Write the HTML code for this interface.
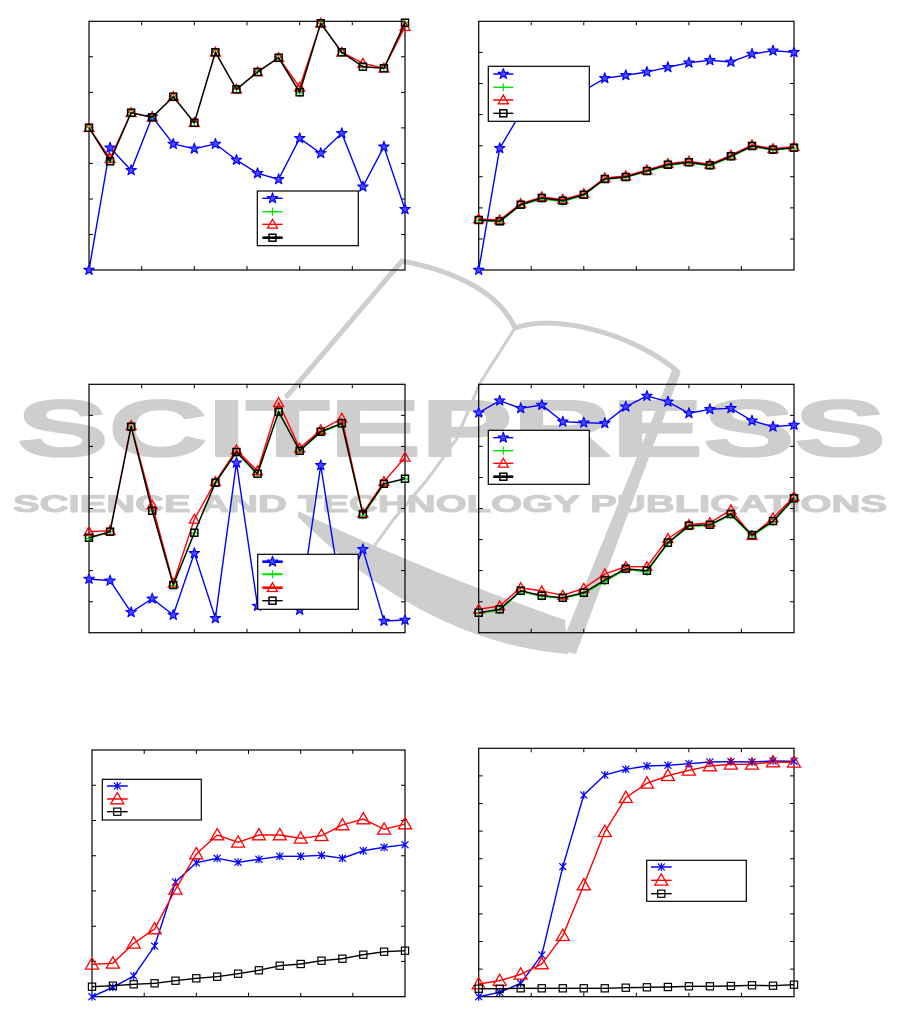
<!DOCTYPE html>
<html><head><meta charset="utf-8"><style>
html,body{margin:0;padding:0;background:#fff;}
svg{display:block;}
.ax{fill:none;stroke:#000;stroke-width:1.2;}
.tk{fill:none;stroke:#000;stroke-width:1;}
.b{fill:none;stroke:#0000ff;stroke-width:1.4;stroke-linejoin:round;}
.g{fill:none;stroke:#00e000;stroke-width:1.3;stroke-linejoin:round;}
.r{fill:none;stroke:#ff0000;stroke-width:1.4;stroke-linejoin:round;}
.k{fill:none;stroke:#000;stroke-width:1.4;stroke-linejoin:round;}
.lg{fill:#fff;stroke:#000;stroke-width:1.2;}
</style></head><body>
<svg width="901" height="1022" viewBox="0 0 901 1022" xmlns="http://www.w3.org/2000/svg">
<defs>
<marker id="st" markerUnits="userSpaceOnUse" markerWidth="14" markerHeight="14" refX="0" refY="0" orient="0" style="overflow:visible"><polygon points="0,-5.5 1.293,-1.78 5.231,-1.7 2.092,0.68 3.233,4.45 0,2.2 -3.233,4.45 -2.092,0.68 -5.231,-1.7 -1.293,-1.78" fill="#4a4aff" stroke="#0000ff" stroke-width="1.1" stroke-linejoin="round"/></marker>
<marker id="pl" markerUnits="userSpaceOnUse" markerWidth="12" markerHeight="12" refX="0" refY="0" orient="0" style="overflow:visible"><path d="M-4,0H4M0,-4V4" stroke="#00e000" stroke-width="1.2" fill="none"/></marker>
<marker id="tr" markerUnits="userSpaceOnUse" markerWidth="14" markerHeight="14" refX="0" refY="0" orient="0" style="overflow:visible"><polygon points="0,-5 5,3.8 -5,3.8" fill="none" stroke="#ff0000" stroke-width="1.3"/></marker>
<marker id="sq" markerUnits="userSpaceOnUse" markerWidth="12" markerHeight="12" refX="0" refY="0" orient="0" style="overflow:visible"><rect x="-3.5" y="-3.5" width="7" height="7" fill="none" stroke="#000" stroke-width="1.5"/></marker>
<marker id="as" markerUnits="userSpaceOnUse" markerWidth="12" markerHeight="12" refX="0" refY="0" orient="0" style="overflow:visible"><path d="M-3.5,-3.5L3.5,3.5M-3.5,3.5L3.5,-3.5M0,-4V4" stroke="#0000ff" stroke-width="1.2" fill="none"/></marker>
<marker id="tb" markerUnits="userSpaceOnUse" markerWidth="16" markerHeight="16" refX="0" refY="0" orient="0" style="overflow:visible"><polygon points="0,-6.5 6.5,4.8 -6.5,4.8" fill="none" stroke="#ff0000" stroke-width="1.3"/></marker>
<marker id="sb" markerUnits="userSpaceOnUse" markerWidth="12" markerHeight="12" refX="0" refY="0" orient="0" style="overflow:visible"><rect x="-3.6" y="-3.6" width="7.2" height="7.2" fill="none" stroke="#000" stroke-width="1.2"/></marker>
</defs>

<!-- watermark -->
<g fill="#cecece" stroke="#cecece" stroke-width="2" stroke-linejoin="round">
<text x="17" y="456" font-family="Liberation Sans, sans-serif" font-weight="bold" font-size="80" textLength="869" lengthAdjust="spacingAndGlyphs">SCITEPRESS</text>
<text x="13" y="512" font-family="Liberation Sans, sans-serif" font-weight="bold" font-size="24" stroke-width="1" textLength="874" lengthAdjust="spacingAndGlyphs">SCIENCE AND TECHNOLOGY PUBLICATIONS</text>
</g>
<g fill="#cecece" stroke="none">
<polygon points="672,370 680,374 576,654 559,650"/>
<path d="M298,511 C360,540 440,576 565,620 L568,654 C470,646 380,598 298,517 Z"/>
</g>
<g fill="none" stroke="#cecece" stroke-linecap="round">
<path d="M287,396 L402,261" stroke-width="5"/>
<path d="M402,261 C450,270 498,290 515,328" stroke-width="5"/>
<path d="M515,328 C560,312 640,338 678,372" stroke-width="5"/>
<path d="M515,328 L480,383 L456,440 L427,480 L393,520 L362,563" stroke-width="3"/>
</g>

<!-- Chart 1 -->
<rect class="ax" x="89" y="21.3" width="316" height="248.7"/>
<path class="tk" d="M141.7,270v-4M194.3,270v-4M247,270v-4M299.7,270v-4M352.3,270v-4M141.7,21.3v4M194.3,21.3v4M247,21.3v4M299.7,21.3v4M352.3,21.3v4M89,56.8h4M89,92.4h4M89,127.9h4M89,163.4h4M89,199h4M89,234.5h4M405,56.8h-4M405,92.4h-4M405,127.9h-4M405,163.4h-4M405,199h-4M405,234.5h-4"/>
<polyline class="b" marker-start="url(#st)" marker-mid="url(#st)" marker-end="url(#st)" points="89,270 110.07,147.7 131.13,170.3 152.2,116.7 173.27,144 194.33,148.7 215.4,144 236.47,160 257.53,173.3 278.6,179.3 299.67,138.3 320.73,153.3 341.8,133.3 362.87,186.7 383.93,146.7 405,209.3"/>
<polyline class="g" marker-start="url(#pl)" marker-mid="url(#pl)" marker-end="url(#pl)" points="89,127.7 110.07,161.3 131.13,112.7 152.2,117.3 173.27,96.7 194.33,122.7 215.4,52.3 236.47,89.3 257.53,72 278.6,57.7 299.67,93 320.73,23.3 341.8,52.3 362.87,66.7 383.93,68.3 405,22.7"/>
<polyline class="r" marker-start="url(#tr)" marker-mid="url(#tr)" marker-end="url(#tr)" points="89,127.7 110.07,158.7 131.13,112.7 152.2,117.3 173.27,96.7 194.33,122.7 215.4,52.3 236.47,89.3 257.53,72 278.6,57.7 299.67,87.3 320.73,23.3 341.8,52.3 362.87,63.3 383.93,68.3 405,26.7"/>
<polyline class="k" marker-start="url(#sq)" marker-mid="url(#sq)" marker-end="url(#sq)" points="89,127.7 110.07,161.3 131.13,112.7 152.2,117.3 173.27,96.7 194.33,122.7 215.4,52.3 236.47,89.3 257.53,72 278.6,57.7 299.67,92.3 320.73,23.3 341.8,52.3 362.87,66.7 383.93,68.3 405,22.7"/>
<rect class="lg" x="257.3" y="191" width="101" height="54.7"/>
<polyline class="b" marker-mid="url(#st)" points="262.3,198.3 272.5,198.3 282.7,198.3"/>
<polyline class="g" marker-mid="url(#pl)" points="262.3,211.7 272.5,211.7 282.7,211.7"/>
<polyline class="r" marker-mid="url(#tr)" points="262.3,224.3 272.5,224.3 282.7,224.3"/>
<polyline class="k" style="stroke-width:2.6" marker-mid="url(#sq)" points="262.3,237.7 272.5,237.7 282.7,237.7"/>

<!-- Chart 2 -->
<rect class="ax" x="478.7" y="21.3" width="315.3" height="248.7"/>
<path class="tk" d="M531.2,270v-4M583.8,270v-4M636.3,270v-4M688.9,270v-4M741.4,270v-4M531.2,21.3v4M583.8,21.3v4M636.3,21.3v4M688.9,21.3v4M741.4,21.3v4M478.7,52.4h4M478.7,83.5h4M478.7,114.6h4M478.7,145.7h4M478.7,176.8h4M478.7,207.9h4M478.7,239h4M794,52.4h-4M794,83.5h-4M794,114.6h-4M794,145.7h-4M794,176.8h-4M794,207.9h-4M794,239h-4"/>
<polyline class="b" marker-start="url(#st)" marker-mid="url(#st)" marker-end="url(#st)" points="478.7,270 499.7,148.3 520.7,113 541.8,97 562.8,92 583.8,90.7 604.8,78.3 625.8,75.3 646.9,72 667.9,67.3 688.9,62.7 709.9,60.3 730.9,62 752,54 773,50.7 794,52.3"/>
<polyline class="g" marker-start="url(#pl)" marker-mid="url(#pl)" marker-end="url(#pl)" points="478.7,220.5 499.7,222 520.7,205.2 541.8,199 562.8,201.7 583.8,195.2 604.8,179.5 625.8,177.5 646.9,171.5 667.9,165.5 688.9,163 709.9,166 730.9,157 752,146.5 773,150.2 794,148.2"/>
<polyline class="r" marker-start="url(#tr)" marker-mid="url(#tr)" marker-end="url(#tr)" points="478.7,219 499.7,220 520.7,203.7 541.8,197 562.8,199.5 583.8,193.7 604.8,178 625.8,176 646.9,170 667.9,163.7 688.9,161.3 709.9,164.3 730.9,155.3 752,145 773,148.7 794,146.7"/>
<polyline class="k" marker-start="url(#sq)" marker-mid="url(#sq)" marker-end="url(#sq)" points="478.7,220 499.7,221.3 520.7,204.7 541.8,198 562.8,200.7 583.8,194.7 604.8,179 625.8,177 646.9,171 667.9,164.7 688.9,162.3 709.9,165.3 730.9,156.3 752,146 773,149.7 794,147.7"/>
<rect class="lg" x="488.3" y="66.3" width="101" height="55"/>
<polyline class="b" marker-mid="url(#st)" points="493.3,74 503.3,74 513.3,74"/>
<polyline class="g" marker-mid="url(#pl)" points="493.3,87.3 503.3,87.3 513.3,87.3"/>
<polyline class="r" marker-mid="url(#tr)" points="493.3,100 503.3,100 513.3,100"/>
<polyline class="k" marker-mid="url(#sq)" points="493.3,113.3 503.3,113.3 513.3,113.3"/>

<!-- Chart 3 -->
<rect class="ax" x="89" y="384.3" width="316" height="248.4"/>
<path class="tk" d="M141.7,632.7v-4M194.3,632.7v-4M247,632.7v-4M299.7,632.7v-4M352.3,632.7v-4M141.7,384.3v4M194.3,384.3v4M247,384.3v4M299.7,384.3v4M352.3,384.3v4M89,415.4h4M89,446.4h4M89,477.5h4M89,508.5h4M89,539.6h4M89,570.6h4M89,601.7h4M405,415.4h-4M405,446.4h-4M405,477.5h-4M405,508.5h-4M405,539.6h-4M405,570.6h-4M405,601.7h-4"/>
<polyline class="b" marker-start="url(#st)" marker-mid="url(#st)" marker-end="url(#st)" points="89,579 110.07,580.7 131.13,612.3 152.2,598.7 173.27,615 194.33,553.3 215.4,618.3 236.47,462.7 257.53,606 278.6,600 299.67,610 320.73,465.3 341.8,598.7 362.87,549.3 383.93,621 405,620"/>
<polyline class="g" marker-start="url(#pl)" marker-mid="url(#pl)" marker-end="url(#pl)" points="89,538.5 110.07,532 131.13,427 152.2,511 173.27,585.5 194.33,533 215.4,483 236.47,452.5 257.53,474.5 278.6,412.5 299.67,451 320.73,432.5 341.8,424 362.87,515.5 383.93,484 405,479"/>
<polyline class="r" marker-start="url(#tr)" marker-mid="url(#tr)" marker-end="url(#tr)" points="89,531.7 110.07,530.7 131.13,425.7 152.2,505 173.27,583.3 194.33,519.3 215.4,481.7 236.47,450 257.53,471 278.6,402.7 299.67,448.3 320.73,430 341.8,418.3 362.87,513.3 383.93,481.7 405,457.3"/>
<polyline class="k" marker-start="url(#sq)" marker-mid="url(#sq)" marker-end="url(#sq)" points="89,537.7 110.07,531.7 131.13,426.7 152.2,510.7 173.27,585 194.33,532.7 215.4,482.7 236.47,452 257.53,473.7 278.6,411.7 299.67,450.7 320.73,431.7 341.8,423.3 362.87,514.3 383.93,483.7 405,478.7"/>
<rect class="lg" x="257.7" y="554.3" width="100.6" height="55"/>
<polyline class="b" style="stroke-width:2.6" marker-mid="url(#st)" points="262.3,561.7 272.5,561.7 282.7,561.7"/>
<polyline class="g" style="stroke-width:2" marker-mid="url(#pl)" points="262.3,574.3 272.5,574.3 282.7,574.3"/>
<polyline class="r" style="stroke-width:2.6" marker-mid="url(#tr)" points="262.3,587.7 272.5,587.7 282.7,587.7"/>
<polyline class="k" marker-mid="url(#sq)" points="262.3,600.7 272.5,600.7 282.7,600.7"/>

<!-- Chart 4 -->
<rect class="ax" x="478.7" y="384.3" width="315.3" height="248.4"/>
<path class="tk" d="M531.2,632.7v-4M583.8,632.7v-4M636.3,632.7v-4M688.9,632.7v-4M741.4,632.7v-4M531.2,384.3v4M583.8,384.3v4M636.3,384.3v4M688.9,384.3v4M741.4,384.3v4M478.7,415.4h4M478.7,446.4h4M478.7,477.5h4M478.7,508.5h4M478.7,539.6h4M478.7,570.6h4M478.7,601.7h4M794,415.4h-4M794,446.4h-4M794,477.5h-4M794,508.5h-4M794,539.6h-4M794,570.6h-4M794,601.7h-4"/>
<polyline class="b" marker-start="url(#st)" marker-mid="url(#st)" marker-end="url(#st)" points="478.7,412.7 499.7,400.7 520.7,408.3 541.8,405 562.8,421.7 583.8,422.7 604.8,423.3 625.8,406.7 646.9,396 667.9,401.7 688.9,413.3 709.9,409.3 730.9,408.3 752,420.7 773,426.7 794,425"/>
<polyline class="g" marker-start="url(#pl)" marker-mid="url(#pl)" marker-end="url(#pl)" points="478.7,613.5 499.7,610.3 520.7,591.5 541.8,596.5 562.8,598.5 583.8,593.5 604.8,581.5 625.8,569.5 646.9,572 667.9,543.5 688.9,526.5 709.9,525.5 730.9,515 752,536 773,522 794,499"/>
<polyline class="r" marker-start="url(#tr)" marker-mid="url(#tr)" marker-end="url(#tr)" points="478.7,609.3 499.7,606 520.7,587.7 541.8,591 562.8,595.3 583.8,588.3 604.8,574 625.8,566.7 646.9,566.7 667.9,538.7 688.9,524.7 709.9,522.7 730.9,510 752,535.7 773,518 794,496.7"/>
<polyline class="k" marker-start="url(#sq)" marker-mid="url(#sq)" marker-end="url(#sq)" points="478.7,612.7 499.7,609.3 520.7,590.7 541.8,595.7 562.8,597.7 583.8,592.7 604.8,580 625.8,568.7 646.9,570.7 667.9,542.7 688.9,525.7 709.9,524.7 730.9,514 752,535 773,521 794,498.3"/>
<rect class="lg" x="488.3" y="430.3" width="101" height="54"/>
<polyline class="b" marker-mid="url(#st)" points="493.3,437.7 503.3,437.7 513.3,437.7"/>
<polyline class="g" marker-mid="url(#pl)" points="493.3,450.7 503.3,450.7 513.3,450.7"/>
<polyline class="r" marker-mid="url(#tr)" points="493.3,463.3 503.3,463.3 513.3,463.3"/>
<polyline class="k" style="stroke-width:2.6" marker-mid="url(#sq)" points="493.3,476.7 503.3,476.7 513.3,476.7"/>

<!-- Chart 5 -->
<rect class="ax" x="92" y="750" width="313" height="246.7"/>
<path class="tk" d="M144.2,996.7v-4M196.3,996.7v-4M248.5,996.7v-4M300.7,996.7v-4M352.8,996.7v-4M144.2,750v4M196.3,750v4M248.5,750v4M300.7,750v4M352.8,750v4M92,785.2h4M92,820.5h4M92,855.7h4M92,890.9h4M92,926.2h4M92,961.4h4M405,785.2h-4M405,820.5h-4M405,855.7h-4M405,890.9h-4M405,926.2h-4M405,961.4h-4"/>
<polyline class="b" marker-start="url(#as)" marker-mid="url(#as)" marker-end="url(#as)" points="92,996.7 112.9,987.3 133.7,976 154.6,946 175.5,882 196.3,862.7 217.2,858.3 238.1,862.3 258.9,859.3 279.8,856.3 300.7,856.3 321.5,855.3 342.4,858.3 363.3,850.7 384.1,847.3 405,844.7"/>
<polyline class="r" marker-start="url(#tb)" marker-mid="url(#tb)" marker-end="url(#tb)" points="92,964.3 112.9,963.3 133.7,943.3 154.6,929 175.5,889.3 196.3,854 217.2,835 238.1,842.3 258.9,835 279.8,835 300.7,838.3 321.5,835.7 342.4,825 363.3,819 384.1,829.3 405,824"/>
<polyline class="k" marker-start="url(#sb)" marker-mid="url(#sb)" marker-end="url(#sb)" points="92,986.7 112.9,985.7 133.7,984.3 154.6,983.3 175.5,980.7 196.3,978.3 217.2,976.7 238.1,973.7 258.9,970.3 279.8,965.7 300.7,964 321.5,960.7 342.4,958.7 363.3,954.7 384.1,951.7 405,950.7"/>
<rect class="lg" x="102.3" y="779.3" width="99" height="40.7"/>
<polyline class="b" marker-mid="url(#as)" points="107,786 117.3,786 127.7,786"/>
<polyline class="r" marker-mid="url(#tb)" points="107,799 117.3,799 127.7,799"/>
<polyline class="k" marker-mid="url(#sb)" points="107,811.7 117.3,811.7 127.7,811.7"/>

<!-- Chart 6 -->
<rect class="ax" x="478.7" y="748.3" width="315.3" height="248.4"/>
<path class="tk" d="M531.2,996.7v-4M583.8,996.7v-4M636.3,996.7v-4M688.9,996.7v-4M741.4,996.7v-4M531.2,748.3v4M583.8,748.3v4M636.3,748.3v4M688.9,748.3v4M741.4,748.3v4M478.7,775.9h4M478.7,803.5h4M478.7,831.1h4M478.7,858.7h4M478.7,886.3h4M478.7,913.9h4M478.7,941.5h4M478.7,969.1h4M794,775.9h-4M794,803.5h-4M794,831.1h-4M794,858.7h-4M794,886.3h-4M794,913.9h-4M794,941.5h-4M794,969.1h-4"/>
<polyline class="b" marker-start="url(#as)" marker-mid="url(#as)" marker-end="url(#as)" points="478.7,996.7 499.7,992.3 520.7,983.3 541.8,955 562.8,866.7 583.8,795 604.8,775 625.8,769.3 646.9,766 667.9,765.3 688.9,763.7 709.9,762 730.9,761.7 752,762 773,761 794,761.3"/>
<polyline class="r" marker-start="url(#tb)" marker-mid="url(#tb)" marker-end="url(#tb)" points="478.7,984 499.7,980.7 520.7,974.3 541.8,964 562.8,935.7 583.8,885 604.8,831.7 625.8,797.7 646.9,783.3 667.9,775.7 688.9,770.3 709.9,766 730.9,764.3 752,764.3 773,762 794,762.3"/>
<polyline class="k" marker-start="url(#sb)" marker-mid="url(#sb)" marker-end="url(#sb)" points="478.7,988.7 499.7,988.7 520.7,988.3 541.8,988.3 562.8,988.3 583.8,988.3 604.8,988.3 625.8,987.7 646.9,987.3 667.9,987 688.9,986.3 709.9,986.3 730.9,986 752,985.3 773,985.7 794,984.7"/>
<rect class="lg" x="646.7" y="860.3" width="99.6" height="41"/>
<polyline class="b" marker-mid="url(#as)" points="651,867 661.3,867 671.7,867"/>
<polyline class="r" marker-mid="url(#tb)" points="651,880.3 661.3,880.3 671.7,880.3"/>
<polyline class="k" marker-mid="url(#sb)" points="651,893.7 661.3,893.7 671.7,893.7"/>
</svg>
</body></html>
